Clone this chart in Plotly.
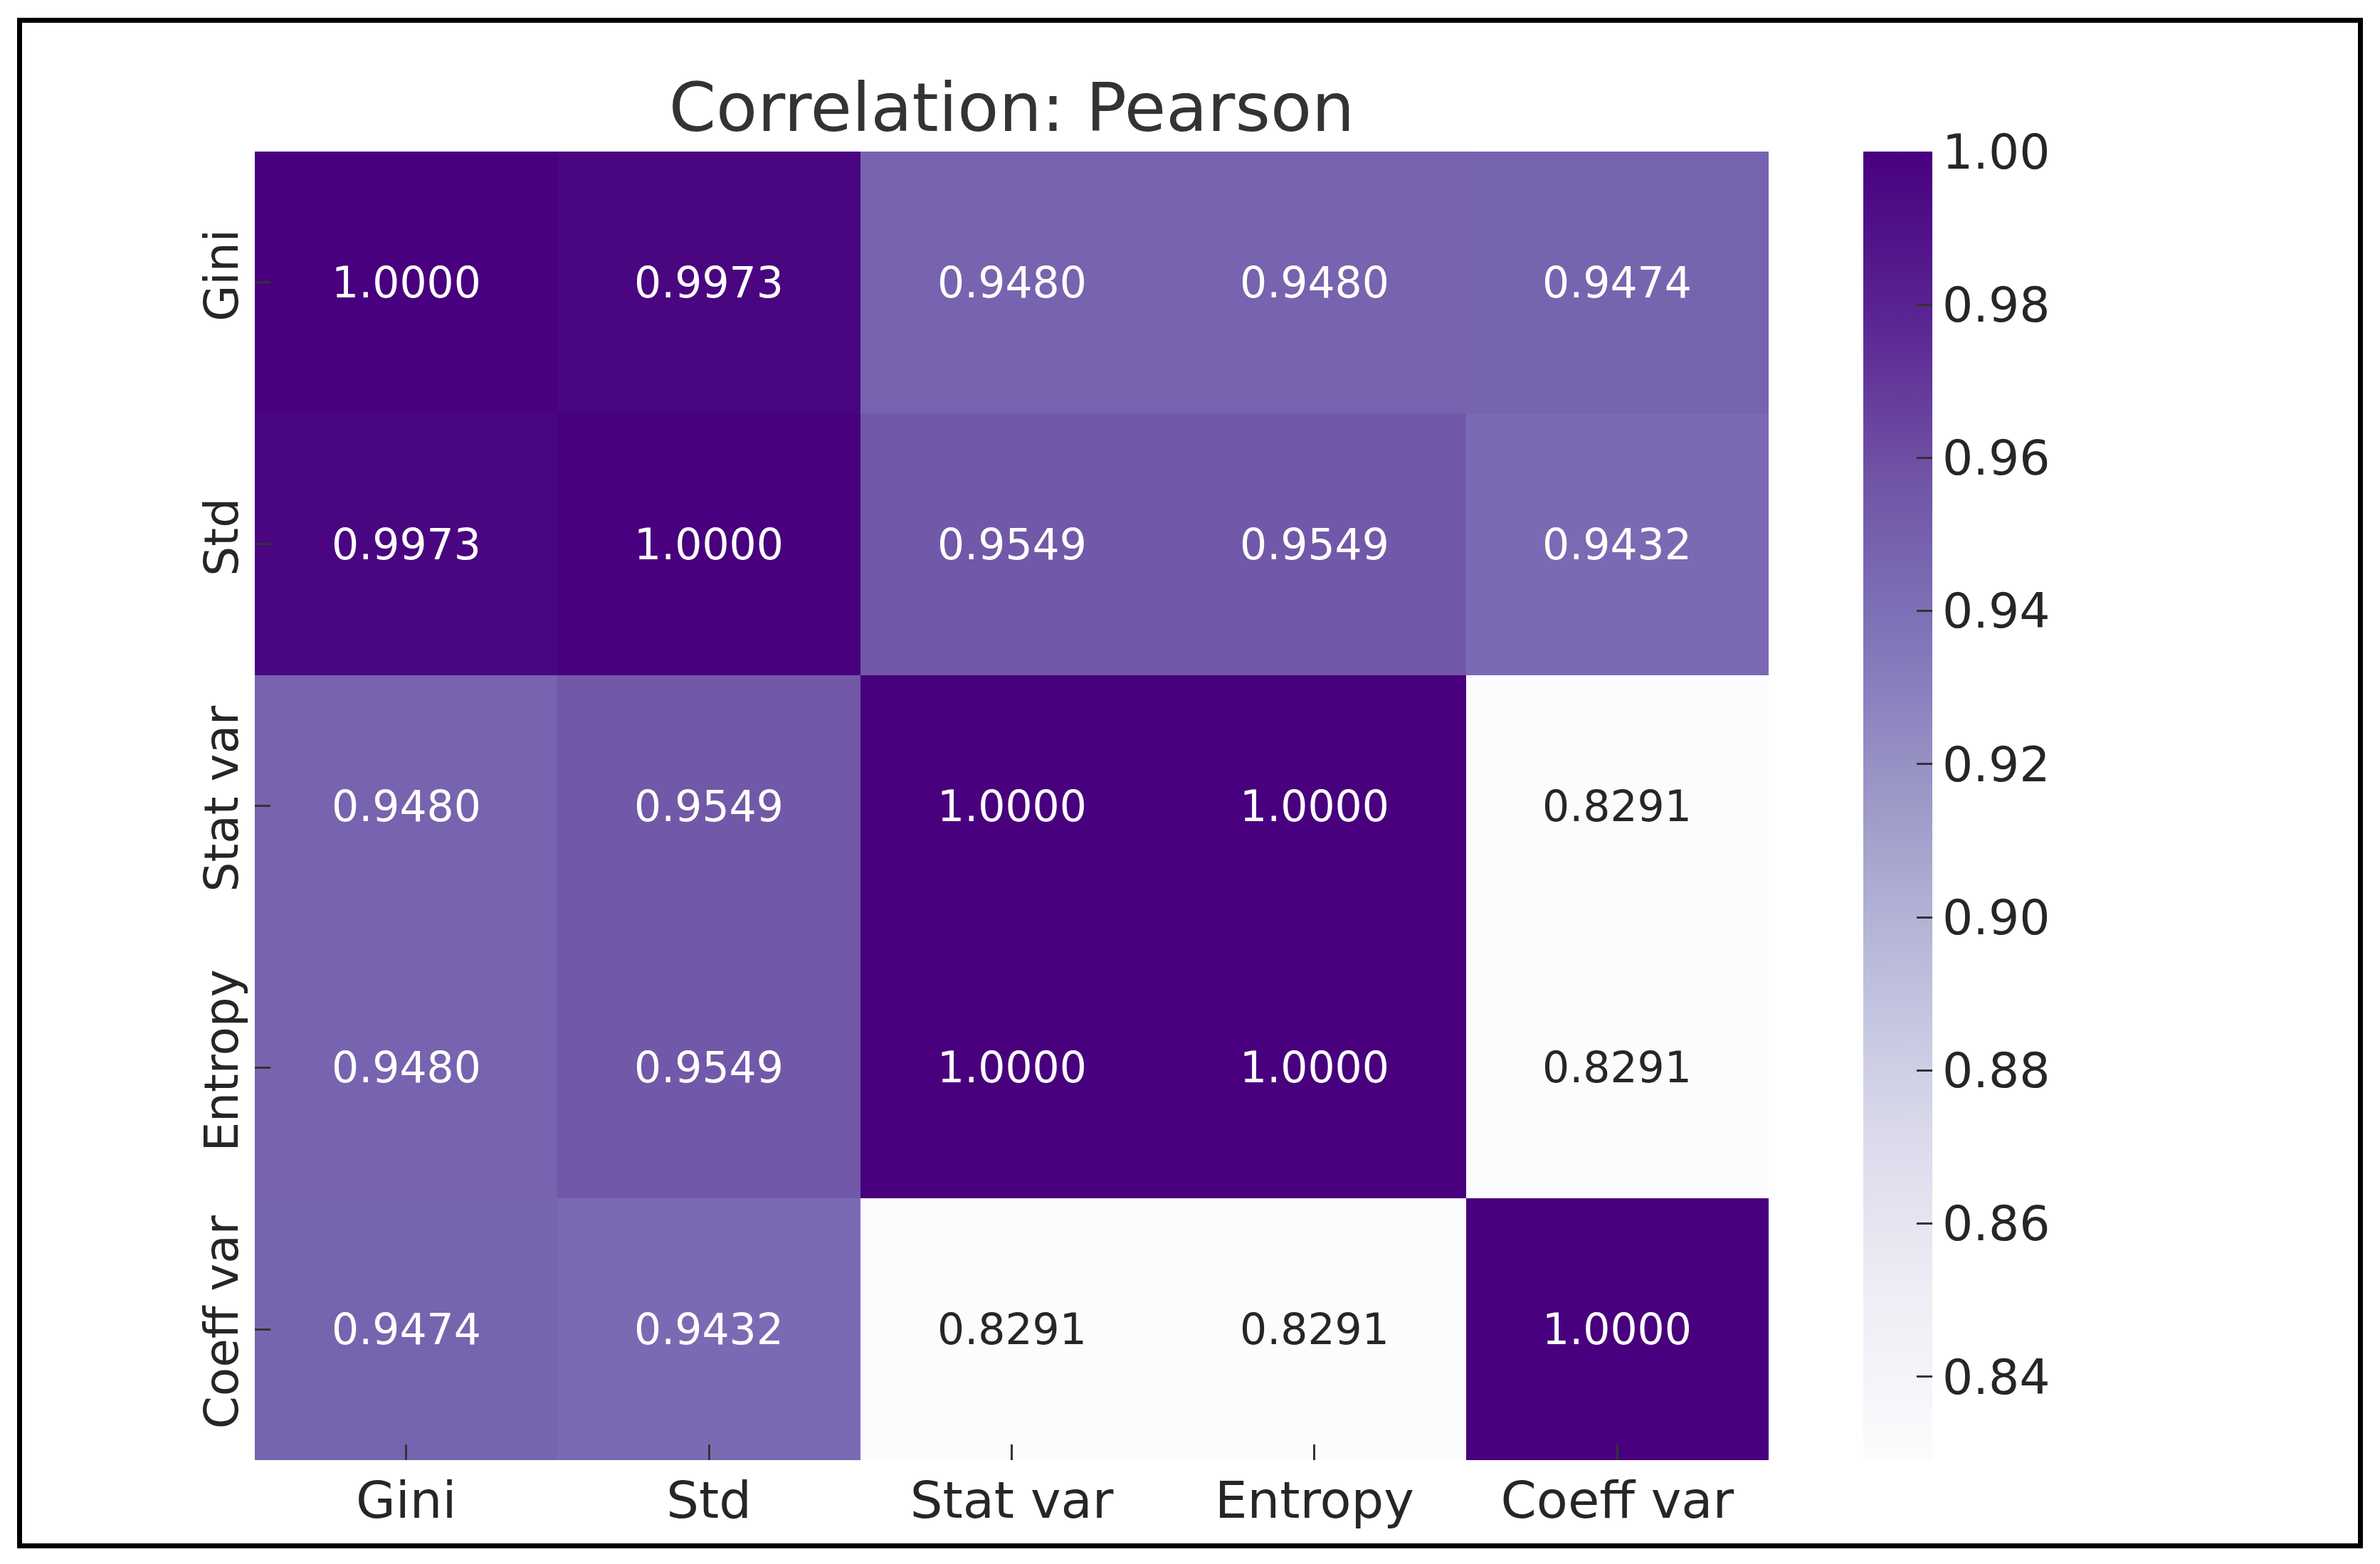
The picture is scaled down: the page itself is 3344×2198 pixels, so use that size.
import plotly.graph_objects as go

labels = ["Gini", "Std", "Stat var", "Entropy", "Coeff var"]
row_gini = [1.0000, 0.9973, 0.9480, 0.9480, 0.9474]
row_std = [0.9973, 1.0000, 0.9549, 0.9549, 0.9432]
row_statvar = [0.9480, 0.9549, 1.0000, 1.0000, 0.8291]
row_entropy = [0.9480, 0.9549, 1.0000, 1.0000, 0.8291]
row_coeffvar = [0.9474, 0.9432, 0.8291, 0.8291, 1.0000]
cbar_ticks = [0.84, 0.86, 0.88, 0.90, 0.92, 0.94, 0.96, 0.98, 1.00]

z = [row_gini, row_std, row_statvar, row_entropy, row_coeffvar]
zmin = min(min(r) for r in z)
zmax = max(max(r) for r in z)

# page body has an 8px margin; work in page pixels and offset
OFF = 8
PW, PH = 3344, 2198
W, H = PW - 2 * OFF, PH - 2 * OFF
L, T = 358 - OFF, 213 - OFF
R = W - (2485 - OFF)
B = H - (2052 - OFF)
pw, ph = W - L - R, H - T - B

FONT = "DejaVu Sans"
DARK = "#262626"

purples = [
    [0.0, "rgb(252,251,253)"], [0.125, "rgb(239,237,245)"],
    [0.25, "rgb(218,218,235)"], [0.375, "rgb(188,189,220)"],
    [0.5, "rgb(158,154,200)"], [0.625, "rgb(128,118,186)"],
    [0.75, "rgb(112,84,166)"], [0.875, "rgb(90,36,146)"],
    [1.0, "rgb(72,0,126)"],
]

fig = go.Figure(go.Heatmap(
    z=z, x=labels, y=labels,
    colorscale=purples, zmin=zmin, zmax=zmax,
    showscale=True,
    colorbar=dict(
        thickness=97, thicknessmode="pixels",
        len=ph, lenmode="pixels",
        x=(2618 - OFF) / W, xref="container", xanchor="left",
        y=0.5, yanchor="middle",
        outlinewidth=0,
        tickvals=cbar_ticks,
        ticktext=[f"{v:.2f}" for v in cbar_ticks],
        ticks="inside", ticklen=22, tickwidth=3, tickcolor="#333333",
        tickfont=dict(family=FONT, size=68, color=DARK),
        ypad=0, xpad=0,
    ),
    hoverinfo="skip",
))

annotations = []
for i, rlab in enumerate(labels):
    for j, clab in enumerate(labels):
        v = z[i][j]
        norm = (v - zmin) / (zmax - zmin)
        col = "#ffffff" if norm > 0.35 else DARK
        annotations.append(dict(
            x=clab, y=rlab, xref="x", yref="y", text=f"{v:.4f}",
            showarrow=False, font=dict(family=FONT, size=60, color=col),
        ))

def px_to_paper_x(px):
    return (px - OFF - L) / pw

def px_to_paper_y(py):
    return (H - B - (py - OFF)) / ph

fig.update_layout(
    width=W, height=H,
    margin=dict(l=L, r=R, t=T, b=B, pad=0),
    paper_bgcolor="white", plot_bgcolor="white",
    title=dict(
        text="Correlation: Pearson",
        font=dict(family=FONT, size=95, color="#333333"),
        x=0.5, xref="paper", xanchor="center",
        y=1 - (151 - OFF) / H, yref="container", yanchor="middle",
    ),
    annotations=annotations,
    shapes=[dict(
        type="rect", xref="paper", yref="paper",
        x0=px_to_paper_x(27.5), x1=px_to_paper_x(3316.5),
        y0=px_to_paper_y(2172.5), y1=px_to_paper_y(28.5),
        line=dict(color="black", width=7), fillcolor="rgba(0,0,0,0)",
        layer="above",
    )],
    xaxis=dict(
        type="category", showgrid=False, zeroline=False, showline=False,
        ticks="inside", ticklen=22, tickwidth=3, tickcolor="#333333",
        tickfont=dict(family=FONT, size=72, color=DARK),
        ticklabelstandoff=8,
    ),
    yaxis=dict(
        type="category", autorange="reversed", showgrid=False, zeroline=False,
        showline=False,
        ticks="inside", ticklen=22, tickwidth=3, tickcolor="#333333",
        tickfont=dict(family=FONT, size=66, color=DARK),
        tickangle=-90,
        ticklabelstandoff=10,
    ),
)

fig.write_html("out.html")
